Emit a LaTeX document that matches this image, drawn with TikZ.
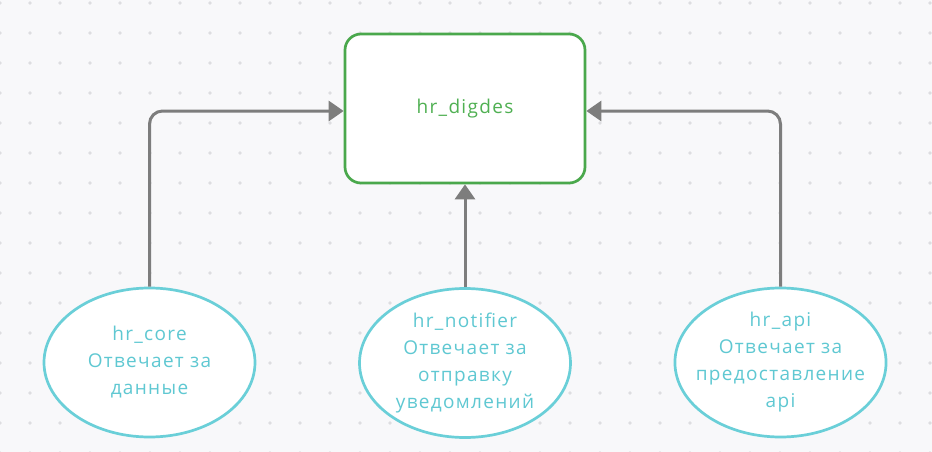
\documentclass[tikz,border=0pt]{standalone}
\usepackage{fontspec}
\setmainfont{Open Sans}[LetterSpace=7]
\usetikzlibrary{arrows.meta,shapes.geometric}
\definecolor{bgc}{HTML}{F8F8FA}
\definecolor{dotc}{HTML}{DDDDE0}
\definecolor{boxg}{HTML}{4AA84C}
\definecolor{txtg}{HTML}{4FB052}
\definecolor{ellc}{HTML}{6ACFD8}
\definecolor{txtc}{HTML}{5FC8D2}
\definecolor{arrc}{HTML}{7D7D7D}
\tikzset{
  mainbox/.style={draw=boxg, line width=2.7pt, fill=white, rounded corners=16pt,
    minimum width=240pt, minimum height=149pt, text=txtg,
    font=\fontsize{19pt}{22pt}\selectfont},
  modell/.style={ellipse, draw=ellc, line width=2.7pt, fill=white, inner sep=-10pt,
    minimum width=211pt, minimum height=149pt, text=txtc, align=center,
    font=\fontsize{19pt}{27pt}\selectfont},
  arr/.style={draw=arrc, line width=3pt, rounded corners=13pt,
    -{Triangle[length=15pt,width=20pt]}}
}
\begin{document}
\begin{tikzpicture}[x=1pt,y=-1pt]
\fill[bgc] (0,0) rectangle (932,452);
\useasboundingbox (0,0) rectangle (932,452);
\foreach \i in {0,...,31}{
  \foreach \j in {0,...,15}{
    \fill[dotc] (\i*30, \j*30+3) circle (1.8pt);
  }
}
\node[mainbox] (top) at (465,108.5) {hr\_digdes};
\node[modell] (core) at (149.5,362.5) {hr\_core\\Отвечает за\\данные};
\node[modell] (notif) at (465,363) {hr\_notifier\\Отвечает за\\отправку\\уведомлений};
\node[modell] (api) at (780.5,362.5) {hr\_api\\Отвечает за\\предоставление\\api};
\draw[arr] (core.north) |- ([yshift=-2.5pt]top.west);
\draw[arr] (api.north) |- ([yshift=-2.5pt]top.east);
\draw[arr] (notif.north) -- (top.south);
\end{tikzpicture}
\end{document}
